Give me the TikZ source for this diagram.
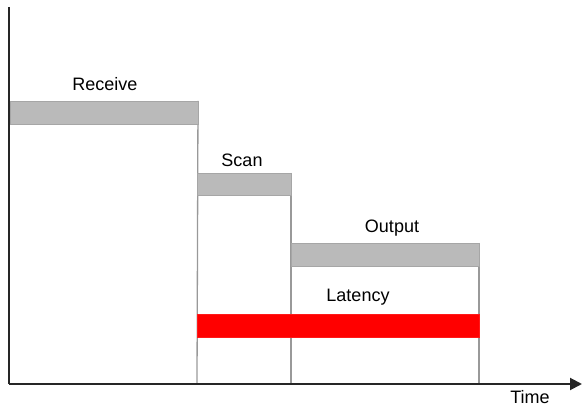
\documentclass[tikz,border=0pt]{standalone}
\usepackage{fontspec}
\setmainfont{Liberation Sans}
\usetikzlibrary{arrows.meta,backgrounds}
\begin{document}
\begin{tikzpicture}[x=1pt,y=-1pt,
  graybar/.style={draw=black!35, line width=0.6pt, fill=black!27, inner sep=0pt, outer sep=0pt, anchor=north west},
  redbar/.style={draw=red!90, line width=0.6pt, fill=red, inner sep=0pt, outer sep=0pt, anchor=north west},
  guide/.style={draw=black!40, line width=1.3pt},
  axis/.style={draw=black!85, line width=2pt},
  lbl/.style={font=\fontsize{18}{20}\selectfont, inner sep=0pt}]
\useasboundingbox (0,0) rectangle (582,406);
\coordinate (origin) at (9,384);
\coordinate (ytop) at (9,7);
\coordinate (xend) at (582,384);
% bars
\node[graybar, minimum width=188pt, minimum height=23pt] (recv) at (10,101) {};
\node[graybar, minimum width=94pt, minimum height=22pt] (scan) at (197,173) {};
\node[graybar, minimum width=188pt, minimum height=23pt] (out) at (291,243) {};
\node[redbar, minimum width=282pt, minimum height=23pt] (lat) at (197,314) {};
% guide lines
\coordinate (g1) at (197,384);
\coordinate (g2) at (291,384);
\coordinate (g3) at (479,384);
\begin{pgfonlayer}{background}
\draw[guide] (recv.north east) -- (g1);
\draw[guide] (scan.north east) -- (g2);
\draw[guide] (out.north east) -- (g3);
\end{pgfonlayer}
% axes
\draw[axis] (ytop) -- (origin);
\draw[axis, -{Triangle[length=12pt,width=12pt]}] (origin) -- (xend);
% labels
\node[lbl] (trecv) at (105,84) {Receive};
\node[lbl] (tscan) at (242,160) {Scan};
\node[lbl] (tout) at (392,228) {Output};
\node[lbl] (tlat) at (358,297) {Latency};
\node[lbl] (ttime) at (530,397) {Time};
\end{tikzpicture}
\end{document}
